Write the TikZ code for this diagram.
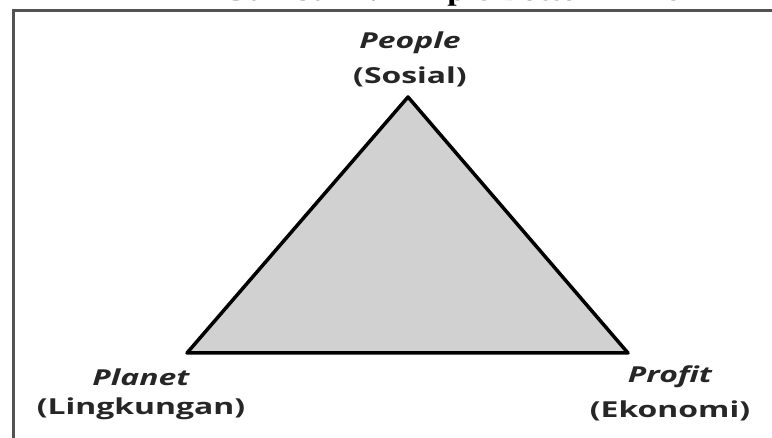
\documentclass[tikz,border=0pt]{standalone}
\usepackage{fontspec}
\usetikzlibrary{positioning}
\newfontfamily\lblfont[FakeStretch=1.45]{Open Sans}
\newfontfamily\ttlfont[FakeStretch=1.25]{Liberation Serif}

\begin{document}
\begin{tikzpicture}[
  x=1pt, y=1pt,
  pillar/.style={font=\lblfont\fontsize{22}{25}\selectfont\bfseries\itshape, text=black!85, inner sep=0pt},
  aspect/.style={font=\lblfont\fontsize{22}{25}\selectfont\bfseries, text=black!85, inner sep=0pt},
  tri/.style={draw=black, line width=3.5pt, line join=round, fill=black!18}
]
  \useasboundingbox (0,0) rectangle (772,438);

  % caption, cut at the top edge
  \node[font=\ttlfont\fontsize{27}{30}\selectfont\bfseries, anchor=base] (caption) at (451,437) {Gambar 2.2 Triple Bottom Line};
  \draw[black!68, line width=3pt] (13.5,-10) |- (790,427);

  \coordinate (apex) at (408,341);
  \coordinate (left) at (187,85);
  \coordinate (right) at (628,85);
  \draw[tri] (apex) -- (left) -- (right) -- cycle;

  % vertex labels
  \node[pillar] (people) at (410,395) {People};
  \node[aspect, below=12pt of people] (sosial) {(Sosial)};
  \node[pillar] (planet) at (141,61) {Planet};
  \node[aspect, below=12pt of planet] (lingkungan) {(Lingkungan)};
  \node[pillar] (profit) at (670,61) {Profit};
  \node[aspect, below=12pt of profit] (ekonomi) {(Ekonomi)};
\end{tikzpicture}
\end{document}
